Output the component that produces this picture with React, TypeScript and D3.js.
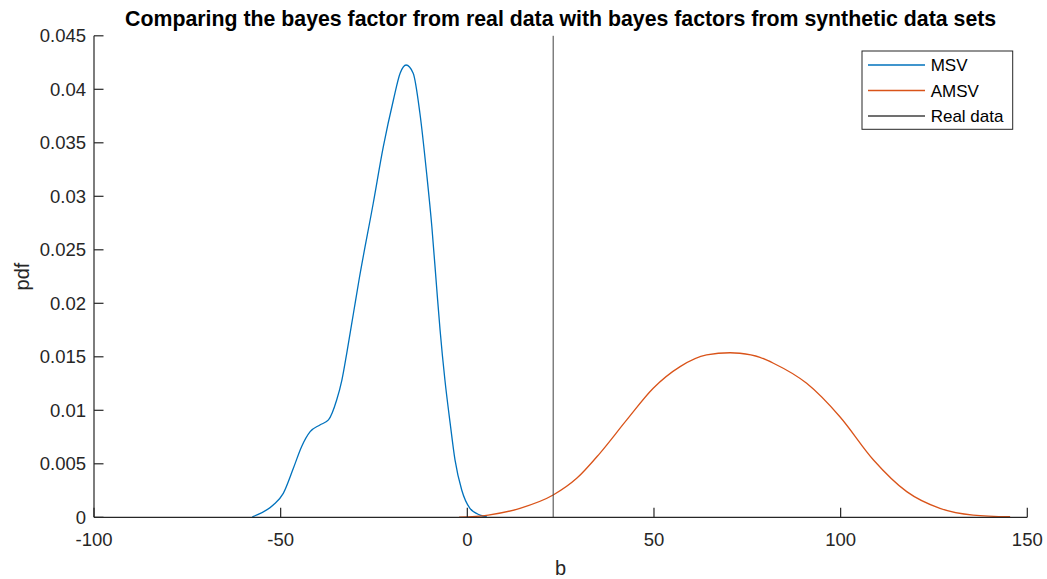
import React from "react";
import * as d3 from "d3";

const xTicks = [-100, -50, 0, 50, 100, 150];
const yTicks = [0, 0.005, 0.01, 0.015, 0.02, 0.025, 0.03, 0.035, 0.04, 0.045];
const yTickLabels = ["0", "0.005", "0.01", "0.015", "0.02", "0.025", "0.03", "0.035", "0.04", "0.045"];

const msvX = [-57.6, -52.0, -49.3, -46.6, -44.4, -42.1, -39.5, -37.2, -35.0, -33.6, -32.3, -30.5, -29.0, -25.2, -22.5, -19.8, -18.0, -16.4, -14.5, -12.7, -10.9, -9.5, -8.2, -7.3, -6.0, -4.6, -3.3, -1.5, 0.7, 3.4, 5.2];
const msvY = [0.00005, 0.00115, 0.00224, 0.00458, 0.0066, 0.008, 0.00863, 0.0091, 0.01096, 0.01283, 0.01533, 0.01907, 0.0222, 0.02935, 0.03464, 0.039, 0.0415, 0.04227, 0.0415, 0.03776, 0.03215, 0.02716, 0.0214, 0.0175, 0.01283, 0.0088, 0.00536, 0.00255, 0.00084, 0.00021, 0.00005];

const amsvX = [-2.2, 5.6, 14.1, 23.0, 29.3, 35.5, 42.7, 49.8, 57.0, 64.1, 70.4, 73.0, 78.4, 82.0, 90.9, 99.8, 108.8, 117.7, 126.6, 135.5, 145.4];
const amsvY = [0.00001, 0.00021, 0.00084, 0.00208, 0.00364, 0.00598, 0.0091, 0.01206, 0.01408, 0.01517, 0.01538, 0.01533, 0.01495, 0.0144, 0.01252, 0.0094, 0.00536, 0.0024, 0.00084, 0.00021, 0.00005];

const realData = 23.0;

const seriesNames = ["MSV", "AMSV", "Real data"];
const seriesColors = ["#0072BD", "#D95319", "#404040"];

const W = 1047, H = 579;
const L = 94, R = 1027.3, T = 35.8, B = 517.3;
const FONT = "'Liberation Sans', Arial, Helvetica, sans-serif";
const AX = "#262626";

export default function App() {
  const x = d3.scaleLinear().domain([-100, 150]).range([L, R]);
  const y = d3.scaleLinear().domain([0, 0.045]).range([B, T]);
  const line = d3.line<[number, number]>().x(d => x(d[0])).y(d => y(d[1])).curve(d3.curveMonotoneX);
  const msv = msvX.map((v, i) => [v, msvY[i]] as [number, number]);
  const amsv = amsvX.map((v, i) => [v, amsvY[i]] as [number, number]);
  const tick = 9.5;
  return (
    <svg width={W} height={H} style={{ position: "absolute", left: 0, top: 0, background: "#fff" }} fontFamily={FONT}>
      <rect x={0} y={0} width={W} height={H} fill="#fff" />
      <path d={line(msv) || ""} fill="none" stroke={seriesColors[0]} strokeWidth={1.3} />
      <path d={line(amsv) || ""} fill="none" stroke={seriesColors[1]} strokeWidth={1.3} />
      <line x1={x(realData)} x2={x(realData)} y1={T} y2={B} stroke={seriesColors[2]} strokeWidth={1} />
      {/* axes */}
      <line x1={L} x2={R} y1={B} y2={B} stroke={AX} strokeWidth={1.2} />
      <line x1={L} x2={L} y1={T} y2={B} stroke={AX} strokeWidth={1.2} />
      {xTicks.map(t => (
        <g key={"x" + t}>
          <line x1={x(t)} x2={x(t)} y1={B} y2={B - tick} stroke={AX} strokeWidth={1.2} />
          <text x={x(t)} y={B + 28.5} textAnchor="middle" fontSize={18.5} fill={AX}>{t}</text>
        </g>
      ))}
      {yTicks.map((t, i) => (
        <g key={"y" + t}>
          <line x1={L} x2={L + tick} y1={y(t)} y2={y(t)} stroke={AX} strokeWidth={1.2} />
          <text x={L - 8} y={y(t) + 6.5} textAnchor="end" fontSize={18.5} fill={AX}>{yTickLabels[i]}</text>
        </g>
      ))}
      <text x={(L + R) / 2} y={575} textAnchor="middle" fontSize={20} fill={AX}>b</text>
      <text transform={`translate(29,${(T + B) / 2}) rotate(-90)`} textAnchor="middle" fontSize={20} fill={AX}>pdf</text>
      <text x={(L + R) / 2} y={26} textAnchor="middle" fontSize={21.3} fontWeight="bold" fill="#000">
        Comparing the bayes factor from real data with bayes factors from synthetic data sets
      </text>
      {/* legend */}
      <rect x={862} y={51} width={150.7} height={78.3} fill="#fff" stroke={AX} strokeWidth={1} />
      {seriesNames.map((n, i) => (
        <g key={n}>
          <line x1={868} x2={925} y1={65 + i * 25.5} y2={65 + i * 25.5} stroke={seriesColors[i]} strokeWidth={1.3} />
          <text x={930.7} y={65 + i * 25.5 + 6} fontSize={17} fill="#000">{n}</text>
        </g>
      ))}
    </svg>
  );
}
